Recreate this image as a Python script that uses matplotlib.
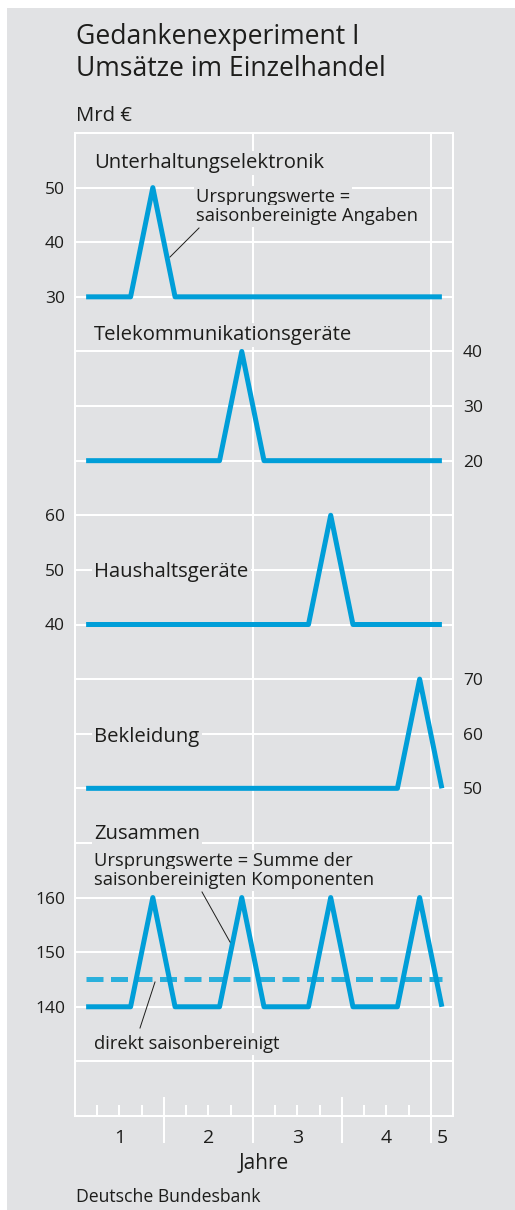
import numpy as np
import matplotlib
matplotlib.use("Agg")
import matplotlib.pyplot as plt
from matplotlib.transforms import Affine2D, blended_transform_factory
from matplotlib.patches import Rectangle
from matplotlib.lines import Line2D

# ---------------- data ----------------
quarters = [0.5, 1.5, 2.5, 3.5, 4.5, 5.5, 6.5, 7.5, 8.5, 9.5, 10.5, 11.5, 12.5, 13.5, 14.5, 15.5, 16.5]
unterhaltung = [30, 30, 30, 50, 30, 30, 30, 30, 30, 30, 30, 30, 30, 30, 30, 30, 30]
telekom      = [20, 20, 20, 20, 20, 20, 20, 40, 20, 20, 20, 20, 20, 20, 20, 20, 20]
haushalt     = [40, 40, 40, 40, 40, 40, 40, 40, 40, 40, 40, 60, 40, 40, 40, 40, 40]
bekleidung   = [50, 50, 50, 50, 50, 50, 50, 50, 50, 50, 50, 50, 50, 50, 50, 70, 50]
zusammen     = [140, 140, 140, 160, 140, 140, 140, 160, 140, 140, 140, 160, 140, 140, 140, 160, 140]
direkt       = [145, 145, 145, 145, 145, 145, 145, 145, 145, 145, 145, 145, 145, 145, 145, 145, 145]

year_labels = ["1", "2", "3", "4", "5"]
year_centers = [2, 6, 10, 14, 16.5]
year_bounds = [4, 8, 12, 16]
year_grid = [8, 16]
quarter_ticks = [1, 2, 3, 5, 6, 7, 9, 10, 11, 13, 14, 15]

panel_titles = ["Unterhaltungselektronik", "Telekommunikationsgeräte",
                "Haushaltsgeräte", "Bekleidung", "Zusammen"]
grid_values = [[30, 40, 50], [20, 30, 40], [40, 50, 60], [50, 60, 70],
               [130, 140, 150, 160, 170]]
tick_values = [[30, 40, 50], [20, 30, 40], [40, 50, 60], [50, 60, 70],
               [140, 150, 160]]

# ---------------- style ----------------
W, H, DPI = 515, 1210, 100
BG = "#e1e2e4"
TXT = "#1d1d1b"
BLUE = "#009ed8"
BLUE2 = "#2ab0dc"
GRID_LW = 1.45
FONT = ["Open Sans", "DejaVu Sans"]
plt.rcParams["font.family"] = FONT

fig = plt.figure(figsize=(W / DPI, H / DPI), dpi=DPI, facecolor="white")
PX = Affine2D().scale(1 / W, -1 / H).translate(0, 1) + fig.transFigure

fig.add_artist(Rectangle((7, 8), W - 7, H - 8, transform=PX, fc=BG, ec="none", zorder=-10))

X0, X1, Y0, Y1 = 75, 453, 133, 1116
KSTEP = (Y1 - Y0) / 18.0


def py(k):
    return Y0 + k * KSTEP


def rect(k0, k1):
    return [X0 / W, 1 - py(k1) / H, (X1 - X0) / W, (py(k1) - py(k0)) / H]


# background axes: frame, vertical gridlines, quarter/year ticks
bg = fig.add_axes(rect(0, 18))
bg.set_facecolor(BG)
bg.set_xlim(0, 17)
bg.set_ylim(0, 1)
for s in bg.spines.values():
    s.set_color("white")
    s.set_linewidth(GRID_LW)
bg.set_xticks([])
bg.set_yticks([])
for q in year_grid:
    bg.axvline(q, color="white", lw=GRID_LW, zorder=1)
bx = blended_transform_factory(bg.transData, PX)
bg.vlines(quarter_ticks, 1105, Y1, transform=bx, color="white", lw=GRID_LW, clip_on=False)
bg.vlines(year_bounds, 1097, 1143, transform=bx, color="white", lw=GRID_LW, clip_on=False)
for lab, xc in zip(year_labels, year_centers):
    bg.text(xc, 1143, lab, transform=bx, ha="center", va="baseline", fontsize=14, color=TXT)

bands = [(0, 3.5, (25, 60)), (3.5, 6.5, (15, 45)), (6.5, 9.5, (35, 65)),
         (9.5, 12.5, (45, 75)), (12.5, 18, (120, 175))]
series = [unterhaltung, telekom, haushalt, bekleidung, zusammen]
sides = ["left", "right", "left", "right", "left"]
title_base = [168, 340, 577, 742, 839]

box = dict(boxstyle="square,pad=0.12", fc=BG, ec="none")
axes = []
for i, (k0, k1, yl) in enumerate(bands):
    ax = fig.add_axes(rect(k0, k1))
    ax.patch.set_visible(False)
    ax.set_xlim(0, 17)
    ax.set_ylim(*yl)
    for s in ax.spines.values():
        s.set_visible(False)
    ax.set_xticks([])
    for g in grid_values[i]:
        ax.axhline(g, color="white", lw=GRID_LW, zorder=1)
    ax.set_yticks(tick_values[i])
    if sides[i] == "right":
        ax.yaxis.tick_right()
    ax.tick_params(axis="y", length=0, pad=7.2, labelsize=12.5, labelcolor=TXT)
    ax.plot(quarters, series[i], color=BLUE, lw=3.6, solid_joinstyle="round",
            solid_capstyle="butt", zorder=4, clip_on=False)
    ax.text(94, title_base[i], panel_titles[i], transform=PX, ha="left", va="baseline",
            fontsize=14.6, color=TXT, bbox=box, zorder=2)
    axes.append(ax)

ax5 = axes[4]
ax5.plot(quarters, direkt, color=BLUE2, lw=3.6, dashes=(3.4, 1.5), zorder=3, clip_on=False)

# annotations
ANN = 13.2
ax1 = axes[0]
ax1.text(196, 202, "Ursprungswerte =", transform=PX, ha="left", va="baseline",
         fontsize=ANN, color=TXT, bbox=box, zorder=2)
ax1.text(196, 221, "saisonbereinigte Angaben", transform=PX, ha="left", va="baseline",
         fontsize=ANN, color=TXT, bbox=box, zorder=2)
fig.add_artist(Line2D([199, 170], [228, 257], transform=PX, lw=0.7, color=TXT))

ax5.text(94, 866, "Ursprungswerte = Summe der", transform=PX, ha="left", va="baseline",
         fontsize=ANN, color=TXT, bbox=box, zorder=2)
ax5.text(94, 885, "saisonbereinigten Komponenten", transform=PX, ha="left", va="baseline",
         fontsize=ANN, color=TXT, bbox=box, zorder=2)
fig.add_artist(Line2D([202, 230], [892, 942], transform=PX, lw=0.7, color=TXT))
ax5.text(94, 1049, "direkt saisonbereinigt", transform=PX, ha="left", va="baseline",
         fontsize=ANN, color=TXT, bbox=box, zorder=2)
fig.add_artist(Line2D([155, 140], [982, 1028], transform=PX, lw=0.7, color=TXT))

# titles and captions
fig.text(76, 44, "Gedankenexperiment I", transform=PX, ha="left", va="baseline", fontsize=19.1, color=TXT)
fig.text(76, 76, "Umsätze im Einzelhandel", transform=PX, ha="left", va="baseline", fontsize=19.1, color=TXT)
fig.text(76, 121, "Mrd €", transform=PX, ha="left", va="baseline", fontsize=14.6, color=TXT)
fig.text(264, 1169, "Jahre", transform=PX, ha="center", va="baseline", fontsize=15, color=TXT)
fig.text(76, 1202, "Deutsche Bundesbank", transform=PX, ha="left", va="baseline", fontsize=12.7, color=TXT)

fig.savefig("out.png", dpi=DPI, facecolor="white")
